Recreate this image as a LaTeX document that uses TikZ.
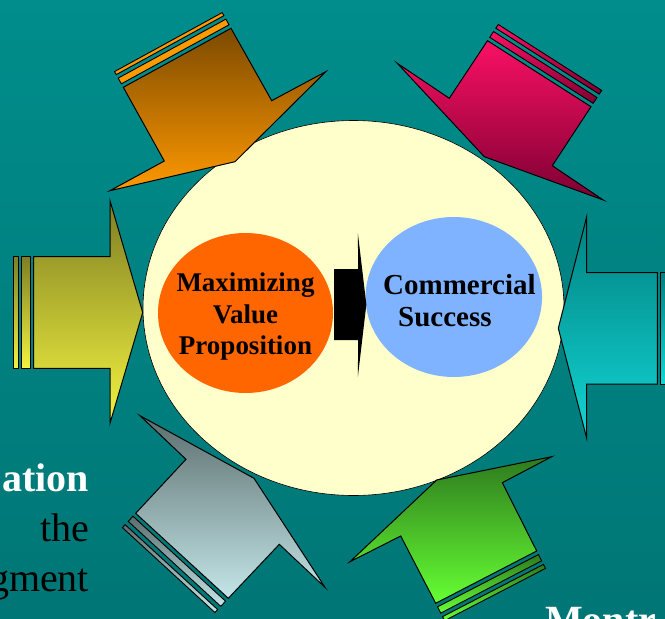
\documentclass[tikz,border=0pt]{standalone}
\usepackage{fontspec}
\setmainfont{Liberation Serif}
\usetikzlibrary{calc,shapes.geometric}

\definecolor{bgtop}{RGB}{0,141,139}
\definecolor{bgbot}{RGB}{0,118,118}
\definecolor{cream}{RGB}{255,255,204}
\definecolor{mvporange}{RGB}{255,102,0}
\definecolor{csblue}{RGB}{128,179,255}
\definecolor{orTop}{RGB}{124,74,0}
\definecolor{orBot}{RGB}{255,153,0}
\definecolor{pkTop}{RGB}{250,16,100}
\definecolor{pkBot}{RGB}{125,0,50}
\definecolor{ylTop}{RGB}{126,126,36}
\definecolor{ylBot}{RGB}{244,244,64}
\definecolor{tqTop}{RGB}{0,128,128}
\definecolor{tqBot}{RGB}{18,214,212}
\definecolor{gyTop}{RGB}{92,110,110}
\definecolor{gyBot}{RGB}{196,230,232}
\definecolor{gnTop}{RGB}{46,122,30}
\definecolor{gnBot}{RGB}{102,255,51}

\tikzset{
  blockarrow/.style={draw=black, line width=1pt, line join=miter},
  band/.style={draw=black, line width=0.9pt, line join=miter},
  circtext/.style={inner sep=0pt, font=\fontsize{27}{32}\selectfont\bfseries, text=black},
  cstext/.style={inner sep=0pt, font=\fontsize{29}{34}\selectfont\bfseries, text=black},
  sidetext/.style={inner sep=0pt, font=\fontsize{40}{50}\selectfont},
}

% body of a block arrow from its seven named corners
\newcommand{\arrowbody}[2]{%
  \path[blockarrow,#2] (#1T1) -- (#1J1) -- (#1B1) -- (#1Tip) -- (#1B2) -- (#1J2) -- (#1T2) -- cycle;}
% the two thin bands behind the tail of a block arrow
\newcommand{\tailbands}[6]{%
  \path[band,#2] ($(#1T1)!-#3pt!(#1J1)$) -- ($(#1T2)!-#3pt!(#1J2)$) -- ($(#1T2)!-#4pt!(#1J2)$) -- ($(#1T1)!-#4pt!(#1J1)$) -- cycle;
  \path[band,#2] ($(#1T1)!-#5pt!(#1J1)$) -- ($(#1T2)!-#5pt!(#1J2)$) -- ($(#1T2)!-#6pt!(#1J2)$) -- ($(#1T1)!-#6pt!(#1J1)$) -- cycle;}

\begin{document}
\begin{tikzpicture}[x=1pt,y=-1pt]
\useasboundingbox (0,0) rectangle (665,619);
\clip (0,0) rectangle (665,619);
\shade[top color=bgtop, bottom color=bgbot] (0,0) rectangle (665,619);

% central disc
\node[ellipse, fill=cream, draw=black, line width=0.6pt, minimum width=421pt, minimum height=375pt, inner sep=0pt] (hub) at (353.5,308) {};

% orange arrow (top left)
\coordinate (oT1) at (123.3,87.3);  \coordinate (oJ1) at (164.3,161);  \coordinate (oB1) at (110,190.7);
\coordinate (oTip) at (235,161.7);
\coordinate (oB2) at (325.7,71.7);  \coordinate (oJ2) at (271.7,100.7); \coordinate (oT2) at (231,28.3);
\arrowbody{o}{top color=orTop, bottom color=orBot}
\tailbands{o}{fill=orBot}{4}{10.5}{14.5}{18}

% crimson arrow (top right)
\coordinate (pT1) at (487.5,40.7);  \coordinate (pJ1) at (449.3,98.3);  \coordinate (pB1) at (397.3,63.3);
\coordinate (pTip) at (484.3,156.7);
\coordinate (pB2) at (603.3,200);   \coordinate (pJ2) at (552.3,165.7); \coordinate (pT2) at (591,106.7);
\arrowbody{p}{top color=pkTop, bottom color=pkBot}
\tailbands{p}{top color=pkTop, bottom color=pkBot}{4}{11}{15}{19.5}

% olive-yellow arrow (left)
\coordinate (yT1) at (33.7,256.7);  \coordinate (yJ1) at (110,256.7);   \coordinate (yB1) at (110,200.7);
\coordinate (yTip) at (142.7,312.5);
\coordinate (yB2) at (110,423.3);   \coordinate (yJ2) at (110,368.3);   \coordinate (yT2) at (33.7,368.3);
\arrowbody{y}{top color=ylTop, bottom color=ylBot}
\tailbands{y}{top color=ylTop, bottom color=ylBot}{3.4}{12}{15.4}{20.4}

% turquoise arrow (right)
\coordinate (tT1) at (657.3,272.7); \coordinate (tJ1) at (586.7,272.7); \coordinate (tB1) at (586.7,216.7);
\coordinate (tTip) at (558.3,328.3);
\coordinate (tB2) at (586.7,438.3); \coordinate (tJ2) at (586.7,384);   \coordinate (tT2) at (657.3,384);
\arrowbody{t}{top color=tqTop, bottom color=tqBot}
\tailbands{t}{top color=tqTop, bottom color=tqBot}{3}{11.6}{15}{20}

% grey arrow (bottom left)
\coordinate (gT1) at (135.7,513.3); \coordinate (gJ1) at (186,459.3);   \coordinate (gB1) at (140,415.7);
\coordinate (gTip) at (254,478.3);
\coordinate (gB2) at (325,587.3);   \coordinate (gJ2) at (279.3,544.3); \coordinate (gT2) at (228.3,598.3);
\arrowbody{g}{top color=gyTop, bottom color=gyBot}
\tailbands{g}{top color=gyTop, bottom color=gyBot}{4}{11}{15.5}{19.5}

% green arrow (bottom right)
\coordinate (nT1) at (435.7,603.3); \coordinate (nJ1) at (400.7,536);   \coordinate (nB1) at (350,561.7);
\coordinate (nTip) at (436.7,480);
\coordinate (nB2) at (551.7,456.7); \coordinate (nJ2) at (502.3,482.7); \coordinate (nT2) at (536.7,551);
\arrowbody{n}{top color=gnTop, bottom color=gnBot}
\tailbands{n}{top color=gnTop, bottom color=gnBot}{4}{11}{15}{19.5}

% the two inner circles
\node[ellipse, fill=mvporange, minimum width=175pt, minimum height=160pt, inner sep=0pt] (mvp) at (245.5,313) {};
\node[ellipse, fill=csblue, minimum width=176.5pt, minimum height=160pt, inner sep=0pt] (cs) at (453.8,297) {};

% black block arrow leading from one circle to the other
\coordinate (linkstart) at ($(mvp.east)+(1,-8.5)$);
\coordinate (linkend) at ($(cs.west)+(1,7.5)$);
\fill[black] ($(linkstart)+(0,-35.5)$) -- ($(linkstart)+(24,-35.5)$) -- ($(linkend)+(-8.5,-71.5)$)
  -- (linkend) -- ($(linkend)+(-8.5,72.5)$) -- ($(linkstart)+(24,35.5)$) -- ($(linkstart)+(0,35.5)$) -- cycle;

% circle labels
\node[circtext, anchor=base] (m1) at (245.5,291.4) {Maximizing};
\node[circtext, anchor=base] (m2) at (245.5,323) {Value};
\node[circtext, anchor=base] (m3) at (245.5,354.5) {Proposition};
\node[cstext, anchor=base west] (c1) at (383,294) {Commercial};
\node[cstext, anchor=base west] (c2) at (398,326) {Success};

% running text at the edges
\node[sidetext, anchor=base east, text=white, font=\fontsize{40}{50}\selectfont\bfseries] (s1) at (89.3,491.7) {ation};
\node[sidetext, anchor=base east, text=black] (s2) at (89.3,541.7) {the};
\node[sidetext, anchor=base east, text=black] (s3) at (89.3,591.7) {gment};
\node[sidetext, anchor=base west, text=white, font=\fontsize{40}{50}\selectfont\bfseries] (s5) at (545,633) {Montr};
\end{tikzpicture}
\end{document}
